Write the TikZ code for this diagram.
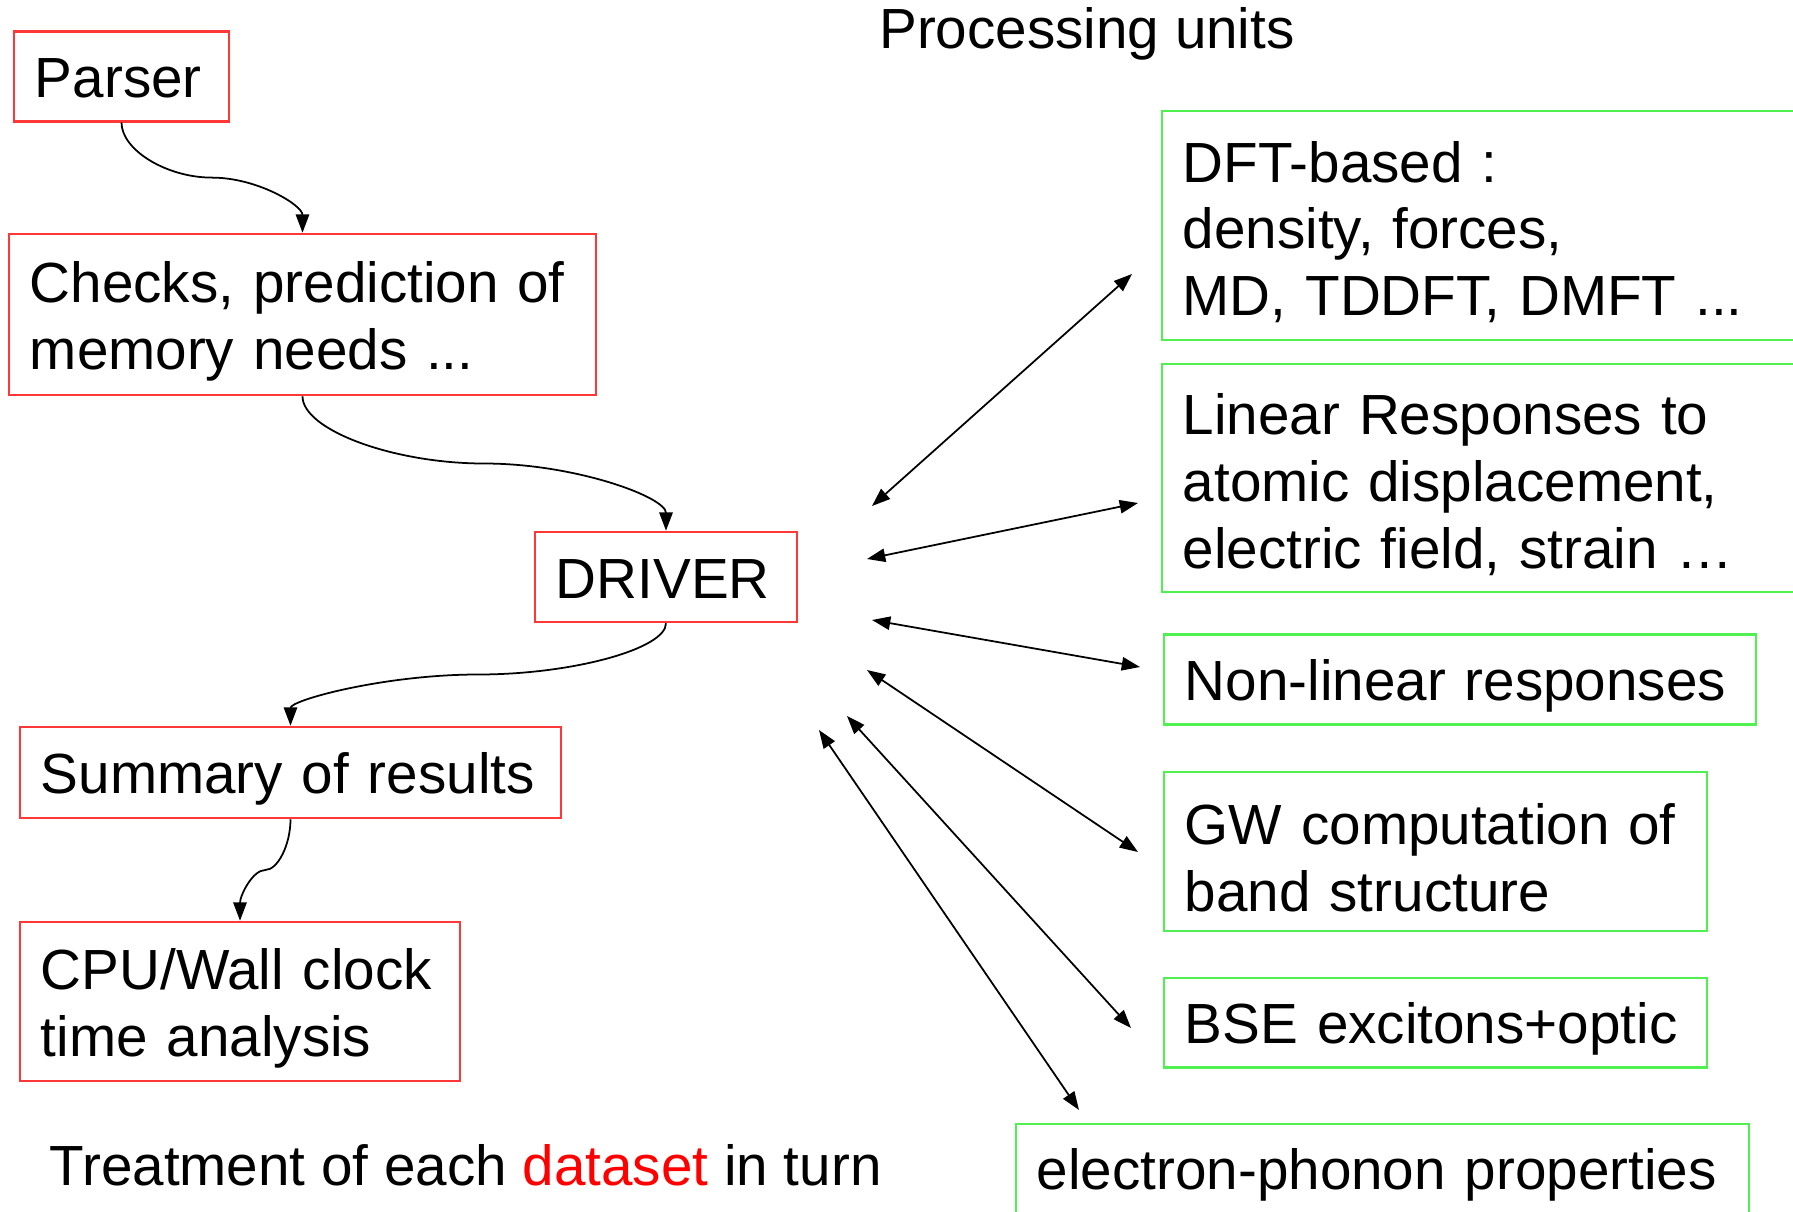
\documentclass[tikz,border=0pt]{standalone}
\usepackage{fontspec}
\setmainfont{Liberation Sans}
\usepackage{tikz}
\usetikzlibrary{arrows.meta,calc}
\definecolor{myred}{RGB}{255,55,55}
\definecolor{mygreen}{RGB}{80,240,80}
\newcommand*{\mytextstyle}{\fontsize{16.1pt}{19pt}\selectfont}
\tikzstyle{box}=[draw, line width=0.7pt, inner xsep=0.21cm, align=left, font=\mytextstyle,
	execute at begin node={\rule[-3.4pt]{0pt}{18.8pt}}]
\tikzstyle{stepbox}=[box, draw=myred]
\tikzstyle{unitbox}=[box, draw=mygreen]
\tikzstyle{flow}=[line width=0.5pt, -{Triangle[length=5.2pt,width=3.8pt]}]
\tikzstyle{link}=[line width=0.5pt, {Triangle[length=5.2pt,width=3.8pt]}-{Triangle[length=5.2pt,width=3.8pt]}]
\tikzset{boxsize/.style 2 args={minimum width=#1, text width=#1-0.40cm, minimum height=#2}}
\newcommand{\flowlink}[2]{%
	% from node, to node: two half bends meeting flat in the middle
	\coordinate (q1) at ($(#1.south)!0.25!(#2.north)$);
	\coordinate (mid) at ($(#1.south)!0.5!(#2.north)$);
	\coordinate (q3) at ($(#1.south)!0.75!(#2.north)$);
	\draw[flow] (#1.south) .. controls (#1.south |- q1) and (q1 |- mid) .. (mid)
		.. controls (q3 |- mid) and (#2.north |- q3) .. (#2.north);
}

\begin{document}
\begin{tikzpicture}[x=0.01cm, y=-0.01cm]
	\useasboundingbox (0,0) rectangle (1793,1212);
	\clip (0,0) rectangle (1793,1212);
	% steps done once per dataset
	\node[stepbox, boxsize={2.13cm}{0.89cm}] (parser) at (121.5,76.5) {Parser};
	\node[stepbox, boxsize={5.85cm}{1.61cm}] (checks) at (302.5,314.5)
		{Checks, prediction of\\memory needs ...};
	\node[stepbox, boxsize={2.60cm}{0.90cm}] (driver) at (666,577) {DRIVER};
	\node[stepbox, boxsize={5.39cm}{0.91cm}] (summary) at (290.5,772.5) {Summary of results};
	\node[stepbox, boxsize={4.38cm}{1.59cm}] (cpu) at (240,1001.5)
		{CPU/Wall clock\\time analysis};
	\flowlink{parser}{checks}
	\flowlink{checks}{driver}
	\flowlink{driver}{summary}
	\flowlink{summary}{cpu}
	% processing units
	\node[font=\mytextstyle, anchor=base] (units) at (1087,48) {Processing units};
	\node[unitbox, boxsize={6.67cm}{2.29cm}] (dft) at (1496.5,225.5)
		{DFT-based :\\density, forces,\\MD, TDDFT, DMFT ...};
	\node[unitbox, boxsize={6.67cm}{2.28cm}] (lin) at (1496.5,478)
		{Linear Responses to\\atomic displacement,\\electric field, strain \dots};
	\node[unitbox, boxsize={5.90cm}{0.89cm}] (nonlin) at (1460,679.5) {Non-linear responses};
	\node[unitbox, boxsize={5.41cm}{1.59cm}] (gw) at (1435.5,851.5)
		{GW computation of\\band structure};
	\node[unitbox, boxsize={5.41cm}{0.89cm}] (bse) at (1435.5,1022.5) {BSE excitons+optic};
	\node[unitbox, boxsize={7.31cm}{0.89cm}] (eph) at (1382.5,1168.5) {electron-phonon properties};
	% arrows between driver and units
	\coordinate (dft-a) at (872,506);
	\coordinate (dft-b) at (1132,274);
	\coordinate (lin-a) at (867,559);
	\coordinate (lin-b) at (1138,503);
	\coordinate (nonlin-a) at (872,620);
	\coordinate (nonlin-b) at (1140,667);
	\coordinate (gw-a) at (867,670);
	\coordinate (gw-b) at (1138,852);
	\coordinate (bse-a) at (847,716);
	\coordinate (bse-b) at (1131,1028);
	\coordinate (eph-a) at (819,730);
	\coordinate (eph-b) at (1079,1110);
	\foreach \u in {dft,lin,nonlin,gw,bse,eph}
		\draw[link] (\u-a) -- (\u-b);
	\node[font=\mytextstyle, anchor=base west, inner sep=0pt] (turn) at (49,1185)
		{Treatment of each \textcolor{red}{dataset} in turn};
\end{tikzpicture}
\end{document}
